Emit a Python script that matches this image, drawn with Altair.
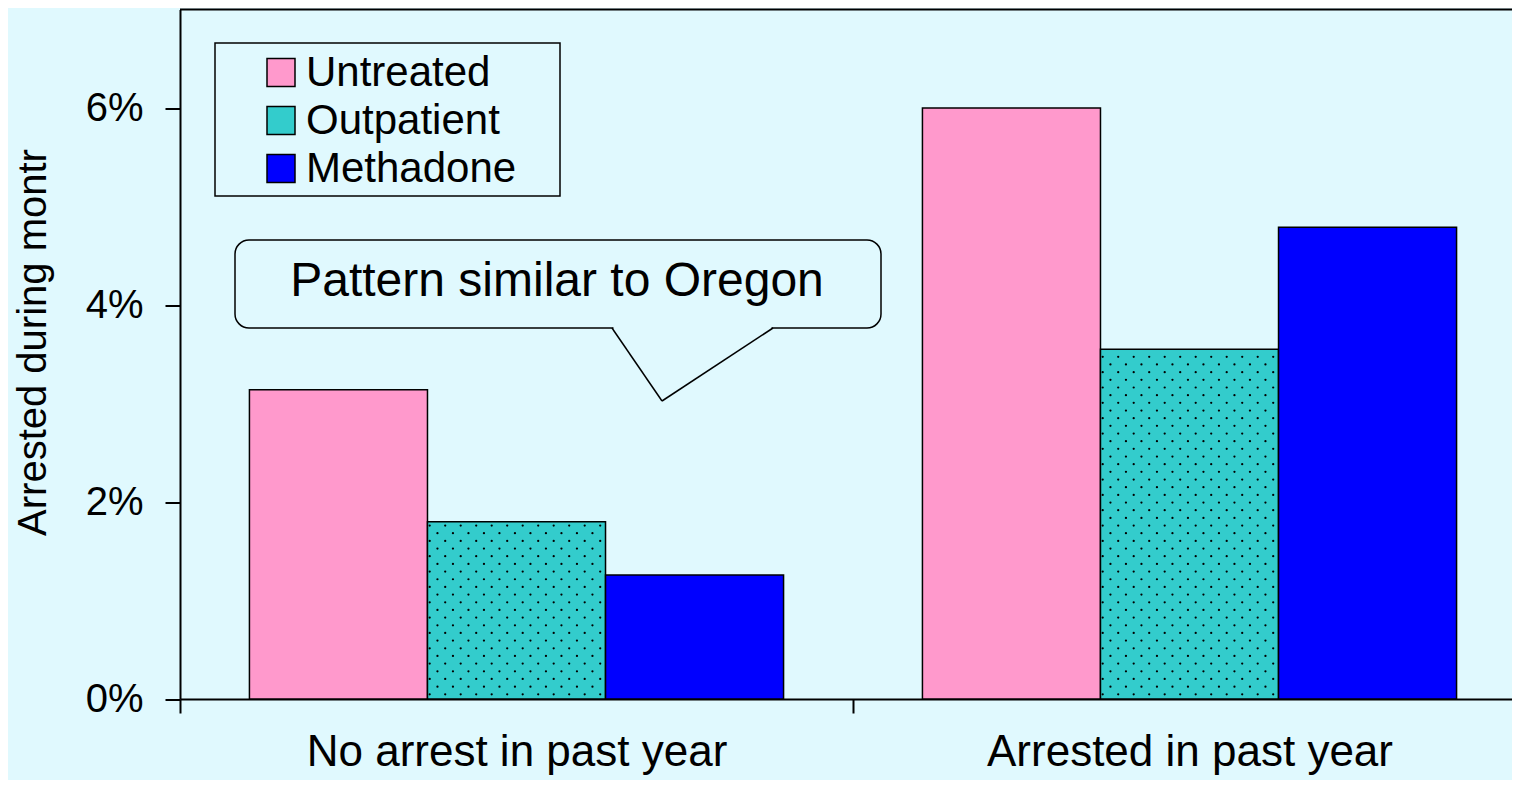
import altair as alt
import pandas as pd

groups = ["No arrest in past year", "Arrested in past year"]
treatments = ["Untreated", "Outpatient", "Methadone"]
rates_no_arrest = [0.0314, 0.0180, 0.0126]
rates_arrested = [0.0600, 0.0355, 0.0479]
colors = ["#FF99CC", "#33CCCC", "#0000FF"]
y_ticks = [0, 0.02, 0.04, 0.06]
callout_text = "Pattern similar to Oregon"
y_title = "Arrested during montr"

rows = []
for g, vals in zip(groups, [rates_no_arrest, rates_arrested]):
    for t, v in zip(treatments, vals):
        rows.append({"group": g, "treatment": t, "rate": v})
df = pd.DataFrame(rows)
outpatient_df = df[df["treatment"] == "Outpatient"][["group", "rate"]]

BG = "#E0F9FE"
FONT = "Liberation Sans"
one = alt.Data(values=[{"k": 1}])

GROUP_W = 673.0
PLOT_H = 689.5
Y_MAX = 0.07

y_scale = alt.Scale(domain=[0, Y_MAX], nice=False)
y_axis = alt.Axis(values=y_ticks, format=".0%", grid=False, title=y_title,
                  labelFontSize=40, labelFont=FONT, labelColor="black",
                  labelPadding=22, tickSize=15, tickColor="black", tickWidth=2,
                  domainColor="black", domainWidth=2,
                  titleFont=FONT, titleFontSize=40, titleFontWeight="normal",
                  titleColor="black", titleAngle=270, titleX=-147, titleY=332.5,
                  titleAlign="center", titleBaseline="middle", orient="left")
hidden_axis = alt.Axis(domain=False, ticks=False, labels=False, grid=False,
                       title="", orient="right")

bars = alt.Chart(df).mark_bar(stroke="black", strokeWidth=1.5).encode(
    x=alt.X("group:N", sort=groups,
            scale=alt.Scale(range=[0, 2 * GROUP_W], paddingInner=0, paddingOuter=0),
            axis=alt.Axis(title=None, labelAngle=0, labelFontSize=44, labelFont=FONT,
                          labelColor="black", labelPadding=17, tickBand="extent",
                          tickSize=14, tickColor="black", tickWidth=2,
                          domainColor="black", domainWidth=2, labelLimit=0)),
    xOffset=alt.XOffset("treatment:N", sort=treatments,
                        scale=alt.Scale(paddingOuter=0.39, paddingInner=0)),
    y=alt.Y("rate:Q", scale=y_scale, axis=y_axis),
    color=alt.Color("treatment:N", sort=treatments,
                    scale=alt.Scale(domain=treatments, range=colors),
                    legend=alt.Legend(title=None, orient="none", legendX=80, legendY=42,
                                      direction="vertical", symbolType="square",
                                      symbolSize=784, symbolStrokeColor="black",
                                      symbolStrokeWidth=1.5, symbolOpacity=1,
                                      labelFontSize=42, labelFont=FONT, labelColor="black",
                                      labelOffset=4, rowPadding=6, padding=0,
                                      labelLimit=0)),
)

# dotted texture of the Outpatient bars (style only; clipped to each bar's value)
dots = alt.Chart(alt.sequence(0, 2 * 12 * 92, as_="i")).transform_calculate(
    col="datum.i % 12",
    row="floor(datum.i / 12) % 92",
    gi="floor(datum.i / 1104)",
).transform_calculate(
    group=f"datum.gi == 0 ? '{groups[0]}' : '{groups[1]}'",
    px=f"datum.gi * {GROUP_W} + 248 + 1.7 + datum.col * 15.5 + (datum.row % 2) * 7.75",
).transform_lookup(
    lookup="group", from_=alt.LookupData(data=outpatient_df, key="group", fields=["rate"]),
    as_=["bar_rate"],
).transform_calculate(
    rate=f"(4.7 + datum.row * 7.67) / {PLOT_H} * {Y_MAX}",
).transform_filter(
    f"datum.rate < datum.bar_rate - 1.5 / {PLOT_H} * {Y_MAX} && datum.px < datum.gi * {GROUP_W} + 248 + 177"
).mark_circle(size=5, color="#000000", opacity=1).encode(
    x=alt.X("px:Q", scale=None, axis=None),
    y=alt.Y("rate:Q", scale=y_scale, axis=hidden_axis),
)

top_line = alt.Chart(one).mark_rule(color="black", strokeWidth=2).encode(
    x=alt.value(0), x2=alt.value(2 * GROUP_W), y=alt.value(0), y2=alt.value(0))

legend_box = alt.Chart(one).mark_rect(fill=BG, stroke="black", strokeWidth=1.5).encode(
    x=alt.value(35), x2=alt.value(380), y=alt.value(33.5), y2=alt.value(186.5))

bubble = alt.Chart(one).mark_rect(fill=BG, stroke="black", strokeWidth=1.5,
                                  cornerRadius=14).encode(
    x=alt.value(55), x2=alt.value(701), y=alt.value(230.5), y2=alt.value(318.5))
gap = alt.Chart(one).mark_rule(color=BG, strokeWidth=4).encode(
    x=alt.value(433.5), x2=alt.value(591.5), y=alt.value(318.5), y2=alt.value(318.5))
tail1 = alt.Chart(one).mark_rule(color="black", strokeWidth=1.5).encode(
    x=alt.value(432), x2=alt.value(482), y=alt.value(318.5), y2=alt.value(391.5))
tail2 = alt.Chart(one).mark_rule(color="black", strokeWidth=1.5).encode(
    x=alt.value(482), x2=alt.value(593), y=alt.value(391.5), y2=alt.value(318.5))
label = alt.Chart(one).mark_text(font=FONT, fontSize=48, color="black",
                                 align="center", baseline="middle").encode(
    x=alt.value(377), y=alt.value(272.5), text=alt.value(callout_text))

chart = alt.layer(bars, dots, top_line, legend_box, bubble, gap, tail1, tail2, label).resolve_axis(
    y="independent"
).properties(
    width=1332, height=PLOT_H,
    autosize=alt.AutoSizeParams(type="none"),
    padding={"left": 172, "top": 1.5, "right": 0, "bottom": 81},
).configure(background=BG).configure_view(stroke="transparent", strokeWidth=0)

chart.save("out.html", embed_options={"renderer": "svg", "actions": False})
